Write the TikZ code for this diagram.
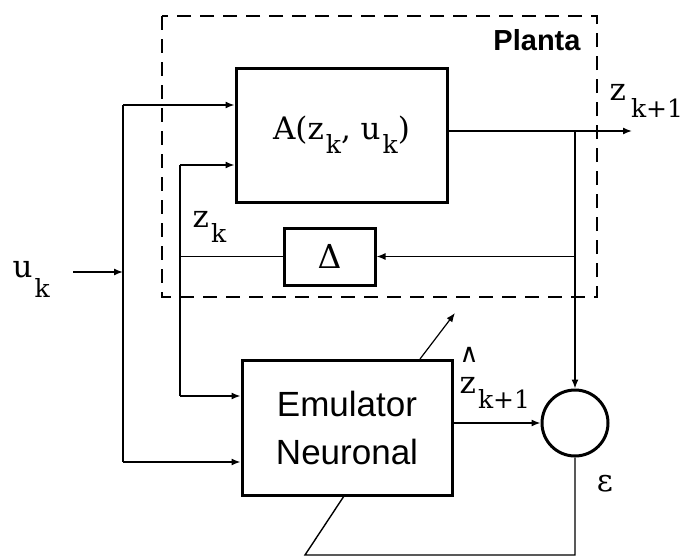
\documentclass[tikz,border=0pt]{standalone}
\usepackage{fontspec}
\setmainfont{DejaVu Serif}
\newfontfamily\sansfam{Liberation Sans}
\usetikzlibrary{arrows.meta}
\newcommand\labfont{\fontsize{31}{36}\selectfont}
\newcommand\subfont{\fontsize{25}{28}\selectfont}
\newcommand\lsb[2][14pt]{\kern2pt\raisebox{-#1}{\subfont #2}}
\begin{document}
\begin{tikzpicture}[x=1pt,y=-1pt,
  line width=1.4pt,
  arr/.style={-{Latex[length=9pt,width=7pt]}},
  blk/.style={draw, line width=3pt, inner sep=0pt},
  lab/.style={inner sep=0pt, font=\labfont},
]
\useasboundingbox (0,0) rectangle (683,557);
% plant dashed frame
\draw[line width=1.5pt, dash pattern=on 14pt off 9pt, dash phase=0pt] (162,16) rectangle (597,297);
\node[anchor=base, inner sep=0pt, font=\sansfam\bfseries\fontsize{29}{32}\selectfont] (planta) at (537,50) {Planta};
% blocks
\node[blk, minimum width=211pt, minimum height=134pt, font=\labfont] (A) at (341.5,135) {A(z\lsb{k}, u\lsb{k})};
\node[blk, minimum width=91pt, minimum height=57pt, font=\fontsize{33}{36}\selectfont] (D) at (329.5,256.5) {Δ};
\node[blk, minimum width=210pt, minimum height=135pt, align=center, font=\sansfam\fontsize{35}{48}\selectfont] (E) at (347,427.5) {Emulator\\Neuronal};
\node[draw, circle, line width=3pt, minimum size=66pt, inner sep=0pt] (S) at (575,423) {};
% junction coordinates
\coordinate (uin) at (73,272);
\coordinate (p1) at (123,105);
\coordinate (p2) at (123,462);
\coordinate (q1) at (180,165);
\coordinate (q2) at (180,396);
\coordinate (r1) at (575,131);
\coordinate (zout) at (632,131);
\coordinate (fb) at (305,555);
\coordinate (fbtop) at (344,496);
\coordinate (adj0) at (420,359);
\coordinate (adj1) at (455,313);
% input u_k
\draw[arr] (uin) -- (uin -| p1);
\draw (p1) -- (p2);
\draw[arr] (p1) -- (p1 -| A.west);
\draw[arr] (p2) -- (p2 -| E.west);
% z_k path
\draw[arr] (q1) -- (q1 -| A.west);
\draw (q1) -- (q2);
\draw[arr] (q2) -- (q2 -| E.west);
\draw (D.west) -- (D.west -| q1);
% output
\draw[arr] (A.east |- r1) -- (zout);
\draw[arr] (r1) -- (S.north);
\draw[arr] (r1 |- D.east) -- (D.east);
\draw[arr] (E.east |- S.west) -- (S.west);
% error feedback
\draw (S.south) -- (S.south |- fb) -- (fb) -- (fbtop);
\draw[arr, line width=1.2pt] (adj0) -- (adj1);
% labels
\node[lab, anchor=base west] (uk) at (12,277) {u\lsb[20pt]{k}};
\node[lab, anchor=base west] (zk) at (192,227) {z\lsb[15pt]{k}};
\node[lab, anchor=base west] (zk1) at (609,100) {z\kern3pt\lsb[17pt]{k+1}};
\node[lab, anchor=base west] (zh) at (459,393) {\rlap{\raisebox{31pt}{\fontsize{26}{26}\selectfont ∧}}z\lsb[15pt]{k+1}};
\node[lab] (eps) at (605,484) {ε};
\end{tikzpicture}
\end{document}
